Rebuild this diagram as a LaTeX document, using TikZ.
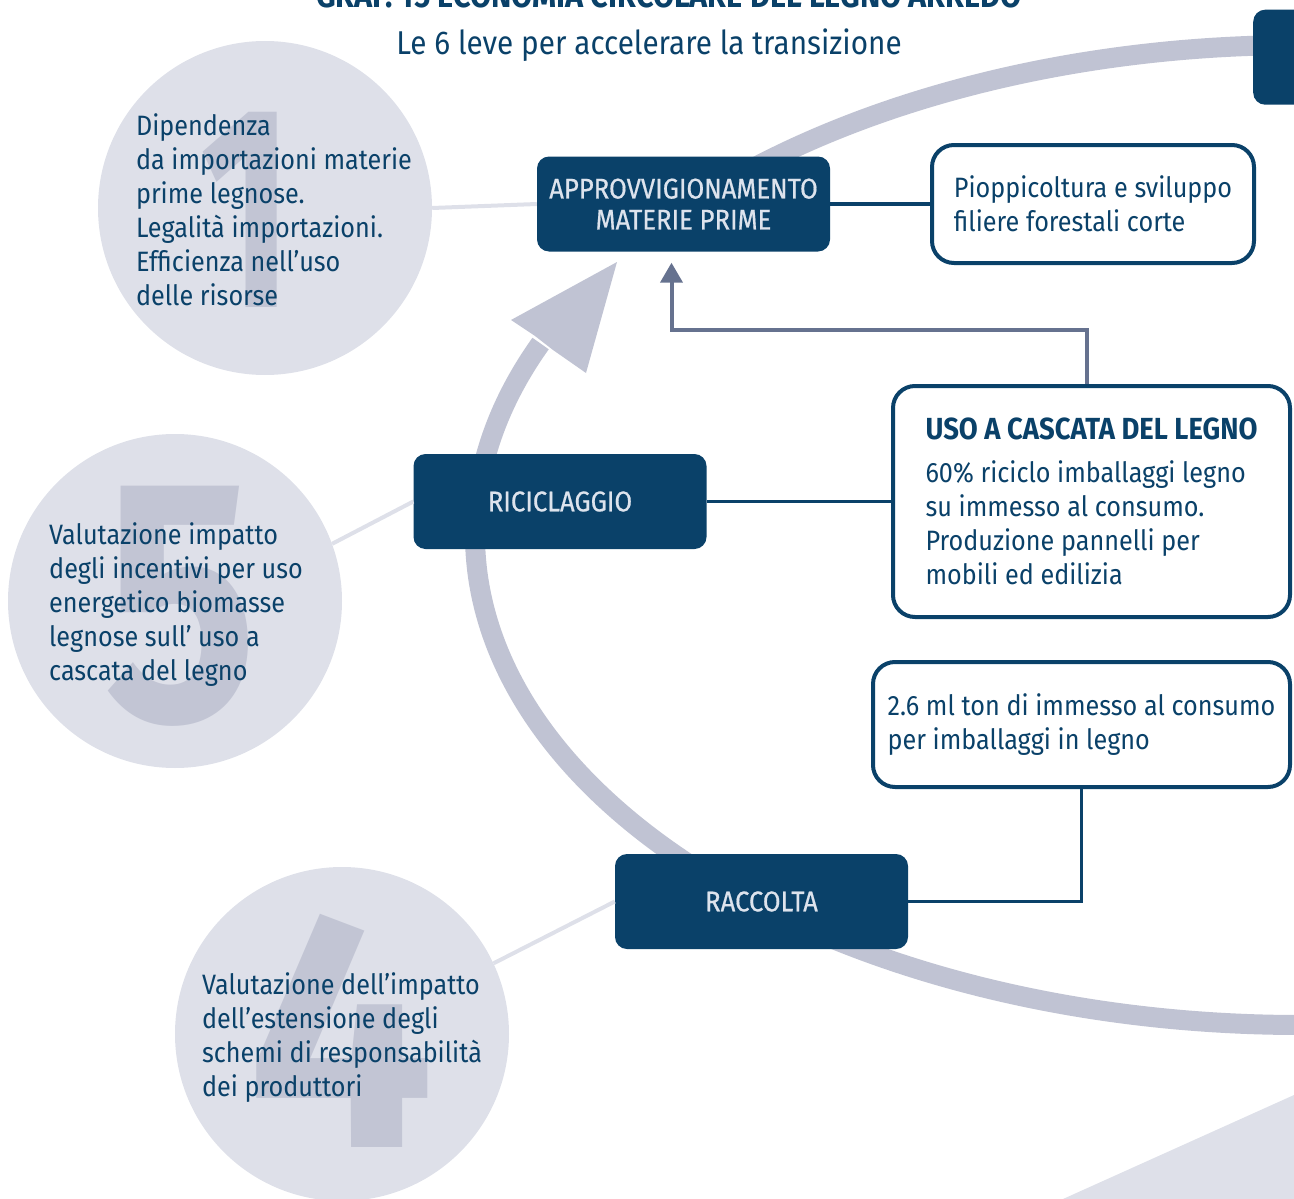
\documentclass[tikz,border=0pt]{standalone}
\usepackage{graphicx}
\usepackage{fontspec}
\setmainfont{Fira Sans}[FakeStretch=0.9]
\newfontfamily\medfont{Fira Sans}[FakeStretch=0.9,FakeBold=0.6]
\usetikzlibrary{arrows.meta}
\definecolor{navy}{HTML}{0A4169}
\definecolor{lever}{HTML}{DEE0E9}
\definecolor{digit}{HTML}{C2C5D4}
\definecolor{cycle}{HTML}{C0C3D3}
\definecolor{slate}{HTML}{66728F}
\definecolor{boxtext}{HTML}{DDE3ED}
\tikzset{
  leve/.style={circle,fill=lever,minimum size=334pt,inner sep=0pt},
  levetext/.style={align=left,text=navy,font=\fontsize{28}{34}\selectfont,inner sep=0pt},
  bignum/.style={text=digit,font=\bfseries,inner sep=0pt},
  fase/.style={fill=navy,rounded corners=12pt,minimum width=293pt,minimum height=95pt,
    text=boxtext,align=center,font=\medfont\fontsize{28.5}{31}\selectfont},
  nota/.style={draw=navy,line width=4pt,fill=white,rounded corners=22pt,align=left,
    text=navy,font=\fontsize{28}{34}\selectfont},
  link/.style={navy,line width=3.5pt},
  leveline/.style={lever,line width=4pt},
  ciclo/.style={cycle,line width=20pt},
}
\begin{document}
\begin{tikzpicture}[x=1pt,y=-1pt]
\useasboundingbox (0,0) rectangle (1294,1199);
\clip (0,0) rectangle (1294,1199);
% titles
\node[text=navy,font=\bfseries\fontsize{34}{34}\selectfont,anchor=base] (title) at (669,8) {GRAF. 15 ECONOMIA CIRCOLARE DEL LEGNO ARREDO};
\node[text=navy,font=\fontsize{33}{36}\selectfont] (sub) at (649,45) {Le 6 leve per accelerare la transizione};
% background shapes
\fill[lever] (1063,1199) -- (1294,1095) -- (1294,1199) -- cycle;
\draw[ciclo] (1300,535) ++(88:825 and 490) arc[start angle=88,end angle=203,x radius=825,y radius=490];
\draw[ciclo] (1300,535) ++(225:825 and 490) arc[start angle=225,end angle=275,x radius=825,y radius=490];
\fill[cycle] (617,262) -- (511,320) -- (535,336) -- (553,350) -- (586,373) -- cycle;
% levers
\node[leve] (c1) at (265,208) {};
\node[leve] (c5) at (175,601) {};
\node[leve] (c4) at (342,1034) {};
\node[bignum] (n1) at (247,210) {\resizebox{93pt}{195pt}{1}};
\node[bignum] (n5) at (181,606) {\resizebox{153pt}{234pt}{5}};
\node[bignum] (n4) at (341,1031) {\resizebox{187pt}{233pt}{4}};
\node[levetext] (t1) at (274,210) {Dipendenza\\da importazioni materie\\prime legnose.\\Legalità importazioni.\\Efficienza nell’uso\\delle risorse};
\node[levetext] (t5) at (176,605) {Valutazione impatto\\degli incentivi per uso\\energetico biomasse\\legnose sull’ uso a\\cascata del legno};
\node[levetext] (t4) at (342,1038) {Valutazione dell’impatto\\dell’estensione degli\\schemi di responsabilità\\dei produttori};
% phases
\node[fase] (appr) at (683.5,204) {APPROVVIGIONAMENTO\\MATERIE PRIME};
\node[fase] (rici) at (560,501.5) {RICICLAGGIO};
\node[fase] (racc) at (761.5,901.5) {RACCOLTA};
\node[fase,anchor=north west] (prod) at (1253,9.5) {};
\draw[leveline] (c1.0) -- (appr.west);
\draw[leveline] (c5.20) -- (rici.west);
\draw[leveline] (c4.25) -- (racc.west);
% notes
\node[nota,minimum width=322pt,minimum height=118pt] (popl) at (1093,204) {Pioppicoltura e sviluppo\\filiere forestali corte};
\node[nota,minimum width=397pt,minimum height=231pt] (uso) at (1091.5,501.5) {{\bfseries\fontsize{30.5}{34}\selectfont USO A CASCATA DEL LEGNO}\\[9pt]60\% riciclo imballaggi legno\\su immesso al consumo.\\Produzione pannelli per\\mobili ed edilizia};
\node[nota,minimum width=417pt,minimum height=125pt] (imm) at (1081.5,724.5) {2.6 ml ton di immesso al consumo\\per imballaggi in legno};
\draw[link] (appr) -- (popl);
\draw[link] (rici) -- (uso);
\draw[link] (racc) -| (imm);
\draw[slate,line width=4pt,-{Triangle[width=22pt,length=20pt]}] ([xshift=-5pt]uso.north) -- ++(0,-54) -| ([xshift=-12pt,yshift=-11pt]appr.south);
\end{tikzpicture}
\end{document}
